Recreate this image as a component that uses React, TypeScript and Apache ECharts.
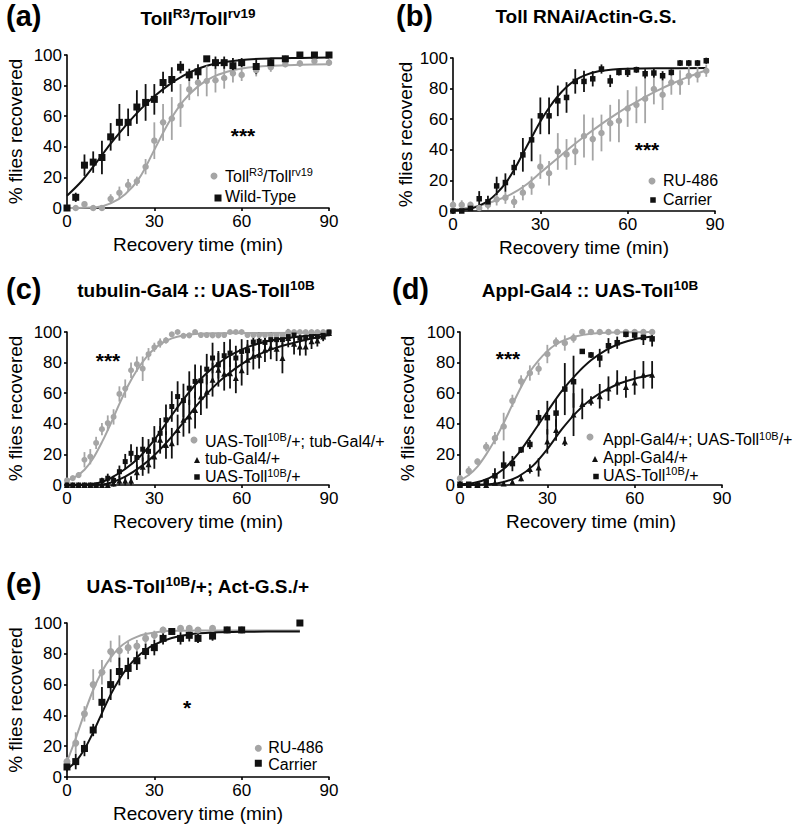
import React, { useEffect, useRef } from "react";
import * as echarts from "echarts";

const FONT = "'Liberation Sans', Arial, Helvetica, sans-serif";
const GREY = "#a5a5a5";
const BLACK = "#111111";

// ---------- Panel (a) ----------
const aTime = [0, 3, 6, 9, 12, 15, 18, 21, 24, 27, 30, 33, 36, 39, 42, 45, 48, 51, 54, 57, 60, 65, 70, 75, 80, 85, 90];
const aWtMean = [0, 7, 28, 30, 33, 46.5, 56, 56, 66, 69, 71, 82, 84, 92, 87, 89, 97.5, 95, 95, 93, 95, 92.5, 95, 97.5, 100, 100, 100];
const aWtSem = [0, 3, 7, 7, 11, 9, 12, 9, 11, 12, 10, 7, 8, 4, 4, 5, 1.5, 4, 4, 5, 3, 5, 3, 2, 0, 0, 0];
const aTollMean = [0, 0, 2.5, 0, 0, 6, 10, 15, 17.5, 27, 44, 56, 58.5, 67, 77.5, 82, 83, 83.5, 85, 88, 87, 90, 92, 94, 94.5, 96, 95];
const aTollSem = [0, 0, 1, 0, 0, 3, 4, 4, 3, 5, 12, 12, 14, 14, 7, 9, 10, 8, 7, 6, 4, 4, 3, 2, 2, 2, 2];
const aWtFitT = [0, 5, 10, 15, 20, 25, 30, 35, 40, 45, 50, 60, 70, 80, 90];
const aWtFitV = [8, 17.5, 29.5, 42, 53.5, 64, 73, 80.5, 86.5, 91, 94, 96.8, 97.8, 98.1, 98.3];
const aTollFitT = [0, 10, 15, 20, 25, 30, 35, 40, 45, 50, 55, 60, 70, 80, 90];
const aTollFitV = [0, 0.5, 3, 9, 20, 38, 56, 70, 79.5, 85.5, 89, 91.2, 93, 93.6, 93.9];

// ---------- Panel (b) ----------
const bTime = [0, 3, 6, 9, 12, 15, 18, 21, 24, 27, 30, 33, 36, 39, 42, 45, 48, 51, 54, 57, 60, 63, 66, 69, 72, 75, 78, 81, 84, 87];
const bCarMean = [0, 0, 1.7, 8, 6, 16.4, 18.6, 28.4, 36.7, 46.5, 62.2, 62.2, 72, 74.2, 84.7, 84.7, 86.4, 92.8, 85, 90.6, 90.6, 92.3, 89.7, 90.2, 88.4, 90.6, 96.7, 96.7, 96.7, 98.2];
const bCarSem = [0, 0, 1, 5, 4, 6, 6, 5, 11, 14, 12, 12, 10, 10, 8, 7, 5, 3, 4, 2, 3, 2, 3, 3, 3, 2, 2, 2, 2, 2];
const bRuMean = [4, 4, 4, 2, 4, 7.6, 8.7, 6, 12, 16.6, 29, 24.7, 38.9, 37, 39, 49, 47, 51, 57.4, 59, 67, 69.4, 73.4, 79.7, 76, 84, 84, 88.4, 89, 91.7];
const bRuSem = [3, 3, 2, 2, 3, 4, 4, 4, 5, 6, 8, 8, 12, 10, 9, 14, 14, 12, 12, 14, 12, 12, 16, 10, 10, 8, 8, 6, 5, 4];
const bCarFitT = [0, 6, 9, 12, 15, 18, 21, 24, 27, 30, 33, 36, 39, 42, 45, 50, 55, 60, 70, 87];
const bCarFitV = [0.5, 1.5, 3.5, 6.5, 11.5, 18, 27, 37.5, 48, 58.5, 67.5, 75, 81, 85.5, 88.5, 91.3, 92.5, 93, 93.3, 93.4];
const bRuFitT = [0, 5, 10, 15, 20, 25, 30, 35, 40, 45, 50, 55, 60, 65, 70, 75, 80, 87];
const bRuFitV = [1, 2, 4, 7, 11, 17, 25, 33, 41, 48.5, 55.5, 62, 68, 73.5, 78.5, 83, 87, 92];

// ---------- Panel (c) ----------
const cTime = [0, 2, 4, 6, 8, 10, 12, 14, 16, 18, 20, 22, 24, 26, 28, 30, 32, 34, 36, 38, 40, 42, 44, 46, 48, 50, 52, 54, 56, 58, 60, 62, 64, 66, 68, 70, 72, 74, 76, 78, 80, 82, 84, 86, 88, 90];
const cGreyMean = [3, 4.5, 6.5, 16.5, 18.5, 27.5, 36.5, 40.5, 44.5, 59.5, 63, 75, 79, 76, 85.5, 90, 92.8, 94.5, 98.5, 100, 97.5, 97.8, 100, 98, 98, 97.8, 97.8, 98, 100, 100, 100, 98, 98, 98, 98, 98, 98, 98, 100, 100, 100, 100, 100, 100, 100, 100];
const cGreySem = [1, 1, 2, 5, 5, 4, 4, 5, 5, 5, 6, 5, 5, 8, 4, 3, 3, 2, 1.5, 1, 1, 1, 1, 1, 1, 1, 1, 1, 1, 1, 1, 1, 1, 1, 1, 1, 1, 1, 1, 1, 1, 1, 1, 1, 1, 1];
const cSqMean = [0, 0, 0, 0, 0, 0, 2.8, 4.4, 3, 8.7, 15.3, 20.7, 18, 23.4, 22, 29.5, 33.8, 42.6, 51.3, 57.8, 55.2, 63.3, 67.7, 68.1, 75.7, 83, 78.6, 84.5, 86.2, 83, 87.3, 87.8, 93.4, 93.9, 93.2, 95, 95, 95, 97, 98, 96, 96.5, 97, 97, 97.8, 100];
const cSqSem = [0, 0, 0, 0, 0, 0, 2, 3, 3, 4, 5, 6, 7, 8, 8, 9, 10, 10, 10, 10, 11, 11, 11, 10, 10, 10, 9, 9, 9, 8, 8, 7, 6, 6, 5, 5, 4, 4, 3, 3, 3, 3, 3, 2, 2, 1];
const cTriMean = [0, 0, 0, 0, 0, 0, 0, 0, 1, 2.8, 2.8, 2.8, 8.3, 12, 13.5, 18.6, 29.5, 26.2, 27.3, 36, 42.6, 44.7, 49, 57.8, 61, 68.8, 75.3, 72.7, 73.1, 70, 75, 81.9, 84.5, 85.1, 88.4, 90.2, 89, 83, 96, 92.3, 90.6, 90.6, 93.9, 94.5, 97, 99.3];
const cTriSem = [0, 0, 0, 0, 0, 0, 0, 0, 2, 3, 3, 3, 5, 6, 6, 8, 9, 9, 10, 10, 11, 11, 12, 12, 11, 11, 11, 11, 10, 10, 10, 10, 9, 9, 8, 8, 8, 10, 6, 7, 6, 6, 5, 4, 3, 2];
const cGreyFitT = [0, 3, 6, 9, 12, 15, 18, 21, 24, 27, 30, 33, 36, 40, 45, 50, 90];
const cGreyFitV = [3, 5.5, 10, 17.5, 28, 40, 53, 65, 75, 83, 89, 93, 95.8, 97.7, 98.8, 99.2, 99.5];
const cSqFitT = [0, 8, 12, 15, 20, 25, 30, 35, 40, 45, 50, 55, 60, 65, 70, 80, 90];
const cSqFitV = [0, 0.5, 2, 4.5, 10.5, 18.5, 29.5, 43, 56, 67.5, 76.5, 83.5, 88.5, 92, 94.5, 97, 99];
const cTriFitT = [0, 12, 15, 20, 25, 30, 35, 40, 45, 50, 55, 60, 65, 70, 75, 80, 90];
const cTriFitV = [0, 0.3, 1.5, 5.5, 11.5, 19.5, 29.5, 41, 53, 63.5, 72, 79, 84.5, 88.5, 91.5, 94, 98];

// ---------- Panel (d) ----------
const dTime = [0, 3, 6, 9, 12, 15, 18, 21, 24, 27, 30, 33, 36, 39, 42, 45, 48, 51, 54, 57, 60, 63, 66];
const dGreyMean = [4.4, 9.2, 15.3, 25, 30.6, 38.2, 55, 67.7, 73.2, 76, 85.6, 93.4, 92.8, 96, 100, 100, 100, 100, 100, 100, 100, 100, 100];
const dGreySem = [2, 3, 2, 3, 4, 9, 4, 4, 5, 4, 6, 3, 5, 3, 0.5, 0.5, 0.5, 0.5, 0.5, 0.5, 0.5, 0.5, 0.5];
const dSqMean = [0.5, 0.5, 0, 2, 6, 13, 14, 23, 26.5, 44, 44, 47, 62.7, 67.5, 87.3, 85, 83, 91, 93, 98.5, 98, 96.5, 95.5];
const dSqSem = [0, 0, 0, 2, 5, 9, 5, 2, 3, 5, 11, 9, 17, 17, 1.5, 2, 6, 5, 4, 2, 3, 5, 5];
const dTriMean = [0, 0, 0, 0, 1.5, 1, 2, 4.4, 10.5, 11.5, 28.5, 36, 28.5, 46, 53, 55, 58, 63, 67, 64, 67, 72, 72];
const dTriSem = [0, 0, 0, 0, 1, 1, 1, 2, 3, 6, 8, 7, 3, 14, 10, 3, 8, 8, 8, 7, 8, 9, 9];
const dGreyFitT = [0, 3, 6, 9, 12, 15, 18, 21, 24, 27, 30, 33, 36, 40, 45, 50, 55, 66];
const dGreyFitV = [3, 6.5, 12, 20, 29.5, 40.5, 52.5, 64, 74, 81.5, 87.5, 92, 94.8, 97.2, 98.8, 99.5, 99.8, 100];
const dSqFitT = [0, 5, 10, 15, 20, 25, 30, 35, 40, 45, 50, 55, 60, 66];
const dSqFitV = [0.5, 1.5, 4.5, 10.5, 20.5, 34, 48, 61.5, 72.5, 81.5, 88, 92.5, 95.3, 97];
const dTriFitT = [0, 10, 15, 20, 25, 30, 35, 40, 45, 50, 55, 60, 66];
const dTriFitV = [0, 0.5, 2, 5.5, 12.5, 23.5, 36.5, 47.5, 56, 62, 66.5, 69.5, 72];

// ---------- Panel (e) ----------
const eRuTime = [0, 3, 6, 9, 12, 15, 18, 21, 24, 27, 30, 33, 36, 39, 42, 45, 50, 55, 60];
const eRuMean = [10, 22, 41, 60, 68, 81.5, 82, 84, 85, 90, 92, 95.5, 94.5, 96.5, 96.5, 95.5, 96.5, 95.5, 95.5];
const eRuSem = [3, 7, 5, 10, 8, 7, 10, 4, 4, 4, 3, 2, 2, 1, 1, 1, 1, 1, 1];
const eCarTime = [0, 3, 6, 9, 12, 15, 18, 21, 24, 27, 30, 33, 36, 39, 42, 45, 50, 55, 60, 80];
const eCarMean = [6.5, 10, 18.5, 30.5, 48.5, 60, 68.5, 70.5, 75.5, 81.5, 84, 90, 94.5, 90, 92, 90, 91.5, 95.5, 95.5, 100];
const eCarSem = [3, 5, 5, 4, 10, 10, 9, 7, 6, 5, 5, 4, 2, 4, 4, 3, 3, 2, 2, 0];
const eRuFitT = [0, 3, 6, 9, 12, 15, 18, 21, 24, 27, 30, 36, 45, 60, 80];
const eRuFitV = [10, 25, 41.5, 56.5, 68.5, 77.5, 84, 88.3, 91, 92.8, 93.9, 94.9, 95.2, 95.2, 95.2];
const eCarFitT = [0, 3, 6, 9, 12, 15, 18, 21, 24, 27, 30, 36, 42, 50, 60, 80];
const eCarFitV = [5, 10, 18, 29, 41.5, 53.5, 63.5, 71.5, 77.8, 82.5, 86, 90.3, 92.6, 93.8, 94.3, 94.5];

// ---------- Axis ticks & texts ----------
const xTicks = [0, 30, 60, 90];
const yTicks = [0, 20, 40, 60, 80, 100];
const panelLetters = ["(a)", "(b)", "(c)", "(d)", "(e)"];
const panelTitles = [
  "{m|Toll}{s|R3}{m|/Toll}{s|rv19}",
  "{m|Toll RNAi/Actin-G.S.}",
  "{m|tubulin-Gal4 :: UAS-Toll}{s|10B}",
  "{m|Appl-Gal4 :: UAS-Toll}{s|10B}",
  "{m|UAS-Toll}{s|10B}{m|/+; Act-G.S./+}",
];
const legendA = ["{n|Toll}{s|R3}{n|/Toll}{s|rv19}", "{n|Wild-Type}"];
const legendB = ["{n|RU-486}", "{n|Carrier}"];
const legendC = ["{n|UAS-Toll}{s|10B}{n|/+; tub-Gal4/+}", "{n|tub-Gal4/+}", "{n|UAS-Toll}{s|10B}{n|/+}"];
const legendD = ["{n|Appl-Gal4/+; UAS-Toll}{s|10B}{n|/+}", "{n|Appl-Gal4/+}", "{n|UAS-Toll}{s|10B}{n|/+}"];
const legendE = ["{n|RU-486}", "{n|Carrier}"];
const significance = ["***", "***", "***", "***", "*"];
const xName = "Recovery time (min)";
const yName = "% flies recovered";

// layout
const grids = [
  { left: 67, top: 55, width: 262, height: 153 },
  { left: 453, top: 58, width: 262, height: 153 },
  { left: 67, top: 332, width: 262, height: 153 },
  { left: 460, top: 332, width: 262, height: 153 },
  { left: 67, top: 623, width: 262, height: 154 },
];

const zip = (t: number[], v: number[]) => t.map((x, i) => [x, v[i]]);
const bars = (t: number[], m: number[], s: number[]) =>
  t.map((x, i) => [x, m[i] - s[i], m[i] + s[i]]).filter((d) => d[2] > d[1]);

function pts(idx: number, t: number[], m: number[], symbol: string, size: number, color: string) {
  return {
    type: "scatter", xAxisIndex: idx, yAxisIndex: idx, data: zip(t, m), symbol, symbolSize: size,
    itemStyle: { color, opacity: 1 }, z: 5, silent: true, clip: false,
  };
}
function errs(idx: number, t: number[], m: number[], s: number[], color: string) {
  return {
    type: "custom", xAxisIndex: idx, yAxisIndex: idx, data: bars(t, m, s), encode: { x: 0, y: [1, 2] },
    z: 4, silent: true, clip: false,
    renderItem: (_p: any, api: any) => {
      const p1 = api.coord([api.value(0), api.value(1)]);
      const p2 = api.coord([api.value(0), api.value(2)]);
      return { type: "line", shape: { x1: p1[0], y1: p1[1], x2: p2[0], y2: p2[1] }, style: { stroke: color, lineWidth: 1.8 } };
    },
  };
}
function fit(idx: number, t: number[], v: number[], color: string) {
  return {
    type: "line", xAxisIndex: idx, yAxisIndex: idx, data: zip(t, v), smooth: 0.3,
    showSymbol: false, symbol: "none", lineStyle: { color, width: 2 }, z: 3, silent: true,
  };
}

const richTitle = {
  m: { fontSize: 19, fontWeight: "bold", fontFamily: FONT, fill: "#000", color: "#000", lineHeight: 23 },
  s: { fontSize: 13.5, fontWeight: "bold", fontFamily: FONT, fill: "#000", color: "#000", lineHeight: 13.5, verticalAlign: "top" },
};
const richLeg = {
  n: { fontSize: 16, fontFamily: FONT, fill: "#000", color: "#000", lineHeight: 19 },
  s: { fontSize: 11, fontFamily: FONT, fill: "#000", color: "#000", lineHeight: 11, verticalAlign: "top" },
};

function text(x: number, y: number, str: string, opts: any = {}) {
  return {
    type: "text", x, y, silent: true, rotation: opts.rotation || 0,
    style: {
      text: str, fontSize: opts.size || 16, fontWeight: opts.bold ? "bold" : "normal", fontFamily: FONT,
      fill: "#000", align: opts.align || "left", verticalAlign: "middle",
      textAlign: opts.align || "left", textVerticalAlign: "middle", rich: opts.rich,
    },
  };
}
function marker(kind: string, cx: number, cy: number, size: number, color: string) {
  if (kind === "circle") return { type: "circle", silent: true, shape: { cx, cy, r: size / 2 }, style: { fill: color } };
  if (kind === "rect")
    return { type: "rect", silent: true, shape: { x: cx - size / 2, y: cy - size / 2, width: size, height: size }, style: { fill: color } };
  return {
    type: "polygon", silent: true,
    shape: { points: [[cx, cy - size / 2], [cx + size / 2, cy + size / 2], [cx - size / 2, cy + size / 2]] },
    style: { fill: color },
  };
}

function buildOption() {
  const xAxis = grids.map((_, i) => ({
    type: "value", gridIndex: i, min: xTicks[0], max: xTicks[xTicks.length - 1], interval: xTicks[1] - xTicks[0],
    axisLine: { show: true, onZero: false, lineStyle: { color: "#000", width: 1.6 } },
    axisTick: { show: true, length: 3, lineStyle: { color: "#000", width: 1.6 } },
    axisLabel: { fontSize: 17, color: "#000", fontFamily: FONT, margin: 5 },
    splitLine: { show: false },
  }));
  const yAxis = grids.map((_, i) => ({
    type: "value", gridIndex: i, min: yTicks[0], max: yTicks[yTicks.length - 1], interval: yTicks[1] - yTicks[0],
    axisLine: { show: true, onZero: false, lineStyle: { color: "#000", width: 1.6 } },
    axisTick: { show: true, length: 3, lineStyle: { color: "#000", width: 1.6 } },
    axisLabel: { fontSize: 17, color: "#000", fontFamily: FONT, margin: 5 },
    splitLine: { show: false },
  }));

  const series: any[] = [
    // (a)
    fit(0, aTollFitT, aTollFitV, GREY),
    errs(0, aTime, aTollMean, aTollSem, GREY),
    pts(0, aTime, aTollMean, "circle", 6.5, GREY),
    fit(0, aWtFitT, aWtFitV, BLACK),
    errs(0, aTime, aWtMean, aWtSem, BLACK),
    pts(0, aTime, aWtMean, "rect", 7, BLACK),
    // (b)
    fit(1, bRuFitT, bRuFitV, GREY),
    errs(1, bTime, bRuMean, bRuSem, GREY),
    pts(1, bTime, bRuMean, "circle", 6.5, GREY),
    fit(1, bCarFitT, bCarFitV, BLACK),
    errs(1, bTime, bCarMean, bCarSem, BLACK),
    pts(1, bTime, bCarMean, "rect", 5.5, BLACK),
    // (c)
    fit(2, cGreyFitT, cGreyFitV, GREY),
    errs(2, cTime, cGreyMean, cGreySem, GREY),
    pts(2, cTime, cGreyMean, "circle", 6, GREY),
    fit(2, cTriFitT, cTriFitV, BLACK),
    errs(2, cTime, cTriMean, cTriSem, BLACK),
    pts(2, cTime, cTriMean, "triangle", 6, BLACK),
    fit(2, cSqFitT, cSqFitV, BLACK),
    errs(2, cTime, cSqMean, cSqSem, BLACK),
    pts(2, cTime, cSqMean, "rect", 5, BLACK),
    // (d)
    fit(3, dGreyFitT, dGreyFitV, GREY),
    errs(3, dTime, dGreyMean, dGreySem, GREY),
    pts(3, dTime, dGreyMean, "circle", 6.5, GREY),
    fit(3, dTriFitT, dTriFitV, BLACK),
    errs(3, dTime, dTriMean, dTriSem, BLACK),
    pts(3, dTime, dTriMean, "triangle", 6, BLACK),
    fit(3, dSqFitT, dSqFitV, BLACK),
    errs(3, dTime, dSqMean, dSqSem, BLACK),
    pts(3, dTime, dSqMean, "rect", 5.5, BLACK),
    // (e)
    fit(4, eRuFitT, eRuFitV, GREY),
    errs(4, eRuTime, eRuMean, eRuSem, GREY),
    pts(4, eRuTime, eRuMean, "circle", 7, GREY),
    fit(4, eCarFitT, eCarFitV, BLACK),
    errs(4, eCarTime, eCarMean, eCarSem, BLACK),
    pts(4, eCarTime, eCarMean, "rect", 7, BLACK),
  ];

  const letterPos = [[6, 15.5], [396, 15.5], [6, 289], [392, 289], [6, 584]];
  const titlePos = [[198, 18.4], [586, 16.9], [196, 290.1], [590, 290.1], [198, 586.4]];
  const starPos = [[243, 135], [647, 149], [108, 360], [508, 358], [187, 707]];
  const yNameX = [15.4, 405, 15.4, 407, 15.4];

  const g: any[] = [];
  grids.forEach((gr, i) => {
    g.push(text(letterPos[i][0], letterPos[i][1], panelLetters[i], { size: 29, bold: true }));
    g.push(text(titlePos[i][0], titlePos[i][1], panelTitles[i], { align: "center", rich: richTitle, size: 19, bold: true }));
    g.push(text(starPos[i][0], starPos[i][1], significance[i], { align: "center", size: 21, bold: true }));
    g.push(text(gr.left + gr.width / 2, gr.top + gr.height + 36, xName, { align: "center", size: 19 }));
    g.push(text(yNameX[i], gr.top + gr.height / 2, yName, { align: "center", size: 19, rotation: Math.PI / 2 }));
  });

  // legends
  g.push(marker("circle", 214, 176, 7, GREY), marker("rect", 218, 198, 7, BLACK));
  g.push(text(225, 176.2, legendA[0], { rich: richLeg }), text(225, 196.5, legendA[1], { rich: richLeg }));

  g.push(marker("circle", 652, 181, 7, GREY), marker("rect", 653, 200, 5.5, BLACK));
  g.push(text(663, 180.2, legendB[0], { rich: richLeg }), text(663, 199.5, legendB[1], { rich: richLeg }));

  g.push(marker("circle", 194, 440, 7, GREY), marker("tri", 197, 460, 6, BLACK), marker("rect", 197, 477, 5.5, BLACK));
  g.push(
    text(205, 441, legendC[0], { rich: richLeg }),
    text(205, 458.7, legendC[1], { rich: richLeg }),
    text(205, 476.7, legendC[2], { rich: richLeg })
  );

  g.push(marker("circle", 590, 437, 7, GREY), marker("tri", 595, 459, 6, BLACK), marker("rect", 596, 476.5, 5.5, BLACK));
  g.push(
    text(603, 439.5, legendD[0], { rich: richLeg }),
    text(603, 457.7, legendD[1], { rich: richLeg }),
    text(603, 475, legendD[2], { rich: richLeg })
  );

  g.push(marker("circle", 258.3, 748.3, 7, GREY), marker("rect", 258.3, 763.3, 7, BLACK));
  g.push(text(268.3, 747.7, legendE[0], { rich: richLeg }), text(268.3, 764.4, legendE[1], { rich: richLeg }));

  return {
    animation: false,
    backgroundColor: "#fff",
    textStyle: { fontFamily: FONT },
    grid: grids.map((gr) => ({ ...gr, containLabel: false, outerBoundsMode: "none" })),
    xAxis,
    yAxis,
    series,
    graphic: g,
  };
}

export default function App() {
  const ref = useRef<HTMLDivElement>(null);
  useEffect(() => {
    if (!ref.current) return;
    const chart = echarts.init(ref.current, undefined, { renderer: "svg" });
    chart.setOption(buildOption() as any);
    return () => chart.dispose();
  }, []);
  return (
    <div
      ref={ref}
      style={{ position: "absolute", left: 0, top: 0, width: 800, height: 832, background: "#fff" }}
    />
  );
}
